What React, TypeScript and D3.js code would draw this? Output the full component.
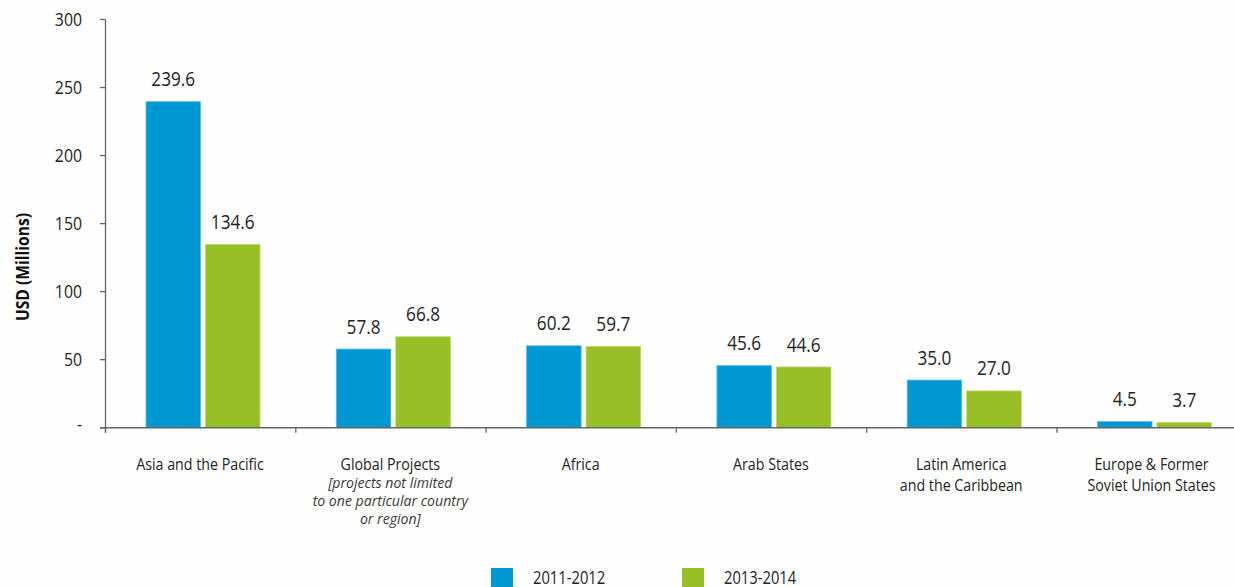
import React from "react";
import * as d3 from "d3";

const categories = [
  "Asia and the Pacific",
  "Global Projects",
  "Africa",
  "Arab States",
  "Latin America and the Caribbean",
  "Europe & Former Soviet Union States",
];
const categoryLines: string[][] = [
  ["Asia and the Pacific"],
  ["Global Projects"],
  ["Africa"],
  ["Arab States"],
  ["Latin America", "and the Caribbean"],
  ["Europe & Former", "Soviet Union States"],
];
const categoryNotes: string[][] = [
  [],
  ["[projects not limited", "to one particular country", "or region]"],
  [],
  [],
  [],
  [],
];
const seriesNames = ["2011-2012", "2013-2014"];
const values2011 = [239.6, 57.8, 60.2, 45.6, 35.0, 4.5];
const values2013 = [134.6, 66.8, 59.7, 44.6, 27.0, 3.7];
const yTicks = [0, 50, 100, 150, 200, 250, 300];
const yTickLabels = ["-", "50", "100", "150", "200", "250", "300"];

const COLORS = ["#0098d4", "#98c026"];
const STROKES = ["#56bbe8", "#b6d65c"];
const FONT = "'Open Sans', 'Noto Sans', sans-serif";
const TEXT = "#242424";

type TProps = {
  x: number;
  y: number;
  sx: number;
  size: number;
  anchor?: "start" | "middle" | "end";
  children: React.ReactNode;
  fill?: string;
  italic?: boolean;
  bold?: boolean;
  dy?: string;
};
function T({ x, y, sx, size, anchor = "middle", children, fill = TEXT, italic, bold, dy }: TProps) {
  return (
    <g transform={`translate(${x},${y}) scale(${sx},1)`}>
      <text
        textAnchor={anchor}
        fontSize={size}
        fill={fill}
        dy={dy}
        fontStyle={italic ? "italic" : undefined}
        fontWeight={bold ? "bold" : undefined}
      >
        {children}
      </text>
    </g>
  );
}

export default function App() {
  const W = 1234, H = 587;
  const y = d3.scaleLinear().domain([0, 300]).range([427.7, 19.5]);
  const bandW = 190.3;
  const x0 = d3
    .scaleBand<string>()
    .domain(categories)
    .range([105, 105 + bandW * categories.length])
    .padding(0);
  const x1 = d3
    .scaleBand<string>()
    .domain(seriesNames)
    .range([41, 155])
    .paddingInner(5 / 59.5)
    .paddingOuter(0);
  const series = [values2011, values2013];
  const baseY = y(0);

  return (
    <svg
      width={W}
      height={H}
      style={{ position: "absolute", left: 0, top: 0, background: "#fefefe" }}
      fontFamily={FONT}
    >
      {/* y axis */}
      <line x1={105.5} x2={105.5} y1={y(300)} y2={baseY + 5} stroke="#666" strokeWidth={1.3} />
      {yTicks.map((t, i) => (
        <g key={t}>
          <line x1={100} x2={105.5} y1={y(t)} y2={y(t)} stroke="#666" strokeWidth={1.3} />
          <T x={82} y={y(t)} sx={0.88} size={18} anchor="end" dy={i === 0 ? "0.2em" : "0.35em"}>
            {yTickLabels[i]}
          </T>
        </g>
      ))}
      <g transform={`translate(29,267) rotate(-90)`}>
        <T x={0} y={0} sx={0.92} size={17} bold fill="#111">
          USD (Millions)
        </T>
      </g>

      {/* bars */}
      {categories.map((c, ci) => (
        <g key={c} transform={`translate(${x0(c)},0)`}>
          {seriesNames.map((s, si) => {
            const v = series[si][ci];
            const bx = x1(s)!;
            const bw = x1.bandwidth();
            return (
              <g key={s}>
                <rect
                  x={bx}
                  y={y(v)}
                  width={bw}
                  height={baseY - y(v)}
                  fill={COLORS[si]}
                  stroke={STROKES[si]}
                  strokeWidth={0.8}
                />
                <T x={bx + bw / 2} y={y(v) - 15.5} sx={0.86} size={20}>
                  {v.toFixed(1)}
                </T>
              </g>
            );
          })}
        </g>
      ))}

      {/* x axis */}
      <line x1={100} x2={W} y1={baseY} y2={baseY} stroke="#666" strokeWidth={1.5} />
      {categories.map((c) => (
        <line
          key={c}
          x1={x0(c)! + 0.5}
          x2={x0(c)! + 0.5}
          y1={baseY}
          y2={baseY + 5}
          stroke="#666"
          strokeWidth={1.3}
        />
      ))}
      {categories.map((c, ci) => {
        const cx = x0(c)! + 95;
        const lines = categoryLines[ci];
        const notes = categoryNotes[ci];
        return (
          <g key={c}>
            {lines.map((l, li) => (
              <T key={li} x={cx} y={470 + li * 21} sx={0.89} size={16}>
                {l}
              </T>
            ))}
            {notes.map((l, li) => (
              <T key={"n" + li} x={cx} y={488 + li * 18} sx={0.94} size={15} italic fill="#3a3a3a">
                {l}
              </T>
            ))}
          </g>
        );
      })}

      {/* legend */}
      {seriesNames.map((s, si) => {
        const lx = 491 + si * 191;
        return (
          <g key={s}>
            <rect x={lx} y={568} width={22} height={22} fill={COLORS[si]} />
            <T x={lx + 42} y={584} sx={0.82} size={18} anchor="start">
              {s}
            </T>
          </g>
        );
      })}
    </svg>
  );
}
